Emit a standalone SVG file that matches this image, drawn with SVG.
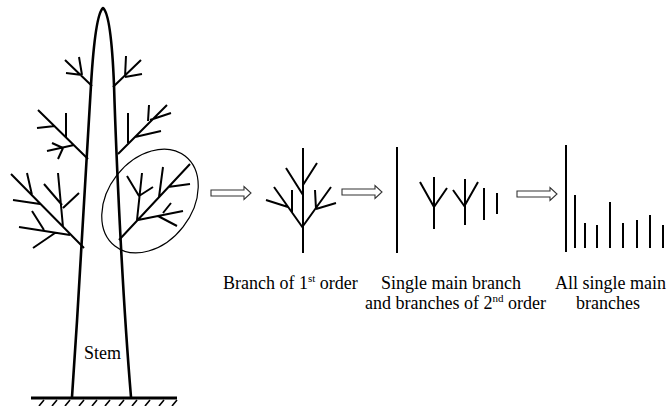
<svg xmlns="http://www.w3.org/2000/svg" width="671" height="406" viewBox="0 0 671 406">
  <style>
    .stem { fill: none; stroke: #000; stroke-width: 2.6; stroke-linejoin: round; }
    .br { fill: none; stroke: #000; stroke-width: 2; stroke-linecap: butt; }
    .ground { stroke: #000; stroke-width: 3; }
    .hatch { stroke: #000; stroke-width: 1.6; }
    .ring { fill: none; stroke: #000; stroke-width: 1.2; }
    .arrow { fill: #fff; stroke: #333; stroke-width: 1.1; }
    .lbl { font-family: "Liberation Serif", "Times New Roman", serif; font-size: 18px; fill: #000; }
    .sup { font-size: 11px; }
  </style>
  <defs>
    <!-- hollow block arrow, tail at origin pointing right -->
    <path id="hollowArrow" d="M0,-3 H33 V-6.5 L40,0 L33,6.5 V3 H0 Z"/>
  </defs>

  <!-- the whole tree with its branches -->
  <g id="tree">
    <path class="stem" d="M72,397 C80,280 88,140 91,85 C94,35 98,12 103,8 C108,12 112,35 114,85 C116,150 122,290 131,397"/>
    <g id="branch-upper-left" class="br">
      <path d="M92,86 L65,60 M82,75 L79,57 M82,75 L66,73"/>
    </g>
    <g id="branch-upper-right" class="br">
      <path d="M113,87 L141,60 M125,77 L126,56 M125,77 L142,74"/>
    </g>
    <g id="branch-mid-left" class="br">
      <path d="M88,159 L38,110 M66,138 L66,113 M55,126 L37,128 M74,145 L47,151 M63,148 L52,143 M63,148 L58,159"/>
    </g>
    <g id="branch-mid-right" class="br">
      <path d="M118,154 L167,105 M128,143 L128,113 M135,137 L161,131 M148,121 L149,105 M150,120 L171,113"/>
    </g>
    <g id="branch-low-left" class="br">
      <path d="M84,248 L11,174 M32,195 L27,173 M40,204 L13,200 M63,227 L58,173 M62,205 L44,184 M63,208 L79,193 M70,235 L19,227 M44,230 L32,211 M55,233 L33,248"/>
    </g>
    <g id="branch-low-right" class="br">
      <path d="M119,240 L190,164 M137,220 L142,173 M139,196 L127,176 M139,196 L153,187 M159,197 L163,167 M168,187 L190,184 M138,220 L183,211 M158,216 L177,226 M163,213 L171,203"/>
    </g>
    <ellipse id="highlight" class="ring" cx="0" cy="0" rx="57" ry="42" transform="translate(150,201) rotate(-52)"/>
    <g id="ground">
      <line class="ground" x1="31" y1="398" x2="177" y2="398"/>
      <path class="hatch" d="M44,400 l-5,6 M57,400 l-5,6 M70,400 l-5,6 M84,400 l-5,6 M97,400 l-5,6 M110,400 l-5,6 M124,400 l-5,6 M137,400 l-5,6 M150,400 l-5,6 M164,400 l-5,6 M177,400 l-5,6"/>
    </g>
    <text class="lbl" x="84" y="359">Stem</text>
  </g>

  <!-- first-order branch -->
  <g id="stage-first-order" class="br">
    <path d="M303,148 L303,253 M286,168 L303,195 M317,163 L303,185 M303,228 L274,187 M292,212 L292,190 M288,207 L266,200 M303,226 L331,187 M316,209 L315,190 M316,209 L336,203"/>
  </g>

  <!-- single main branch and second-order branches -->
  <g id="stage-second-order" class="br">
    <path d="M397,147 L397,253 M434,177 L434,229 M420,182 L434,207 M447,188 L434,207 M465,179 L465,225 M453,190 L465,207 M478,182 L465,205 M484,188 L484,220 M497,193 L497,214"/>
  </g>

  <!-- all single main branches -->
  <g id="stage-single" class="br">
    <path d="M566,145 L566,252 M575,195 L575,248 M585,223 L585,248 M597,225 L597,248 M610,202 L610,248 M623,223 L623,248 M637,220 L637,248 M650,215 L650,248 M663,225 L663,248"/>
  </g>

  <!-- transition arrows -->
  <g id="connectors" class="arrow">
    <use href="#hollowArrow" transform="translate(211,193)"/>
    <use href="#hollowArrow" transform="translate(342,192)"/>
    <use href="#hollowArrow" transform="translate(517,194)"/>
  </g>

  <g id="labels">
    <text class="lbl" x="223" y="289">Branch of 1<tspan class="sup" dy="-7">st</tspan><tspan dy="7"> order</tspan></text>
    <text class="lbl" x="381" y="289">Single main branch</text>
    <text class="lbl" x="365" y="309">and branches of 2<tspan class="sup" dy="-7">nd</tspan><tspan dy="7"> order</tspan></text>
    <text class="lbl" x="555" y="289">All single main</text>
    <text class="lbl" x="576" y="309">branches</text>
  </g>
</svg>
